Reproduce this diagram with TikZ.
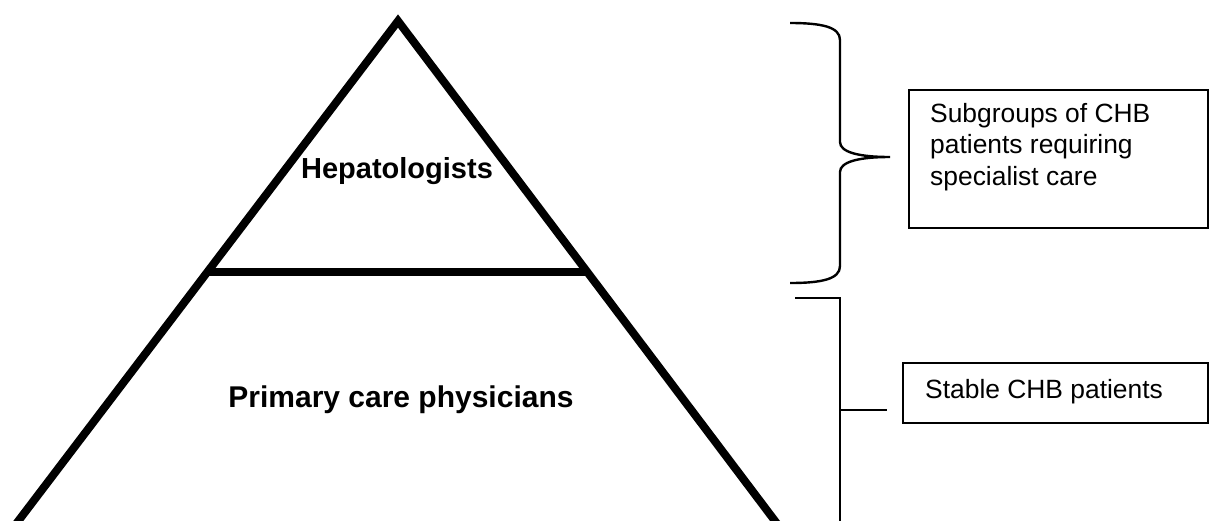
\documentclass[tikz,border=0pt]{standalone}
\usepackage{fontspec}
\setmainfont{Liberation Sans}
\begin{document}
\begin{tikzpicture}[x=1pt,y=-1pt,
  pyr/.style={line width=8pt, line join=miter, miter limit=20},
  brace/.style={line width=2.4pt},
  boxframe/.style={draw, line width=1.6pt, inner sep=0pt},
  boxtext/.style={inner sep=0pt, font=\fontsize{26.4}{31.7}\selectfont, align=left},
  tiertext/.style={inner sep=0pt, font=\fontsize{29}{34}\selectfont\bfseries}]
\useasboundingbox (0,0) rectangle (1210,520);
\begin{scope}
\clip (0,0) rectangle (1210,520);
% pyramid
\draw[pyr] (-25,578) -- (398,21) -- (818,578);
\draw[pyr] (207,272) -- (587,272);
% brace for hepatologists
\draw[brace] (790,23) .. controls (822,23) and (840,27) .. (840,40)
  -- (840,142) .. controls (840,152) and (858,157) .. (890,157)
  .. controls (858,157) and (840,162) .. (840,172)
  -- (840,266) .. controls (840,279) and (822,283) .. (790,283);
% bracket for primary care
\draw[brace] (795,298) -- (840,298) -- (840,540);
\draw[brace] (840,410) -- (887,410);
\end{scope}
\node[tiertext, anchor=base] (hep) at (397,178) {Hepatologists};
\node[tiertext, anchor=base, font=\fontsize{30}{35}\selectfont\bfseries] (pcp) at (401,407) {Primary care physicians};
\draw[boxframe] (909,90) rectangle (1208,228);
\node[boxtext, anchor=base west] (sub) at (930,185.4) {Subgroups of CHB\\patients requiring\\specialist care};
\draw[boxframe] (903,363) rectangle (1208,423);
\node[boxtext, anchor=base west] (stable) at (925,398) {Stable CHB patients};
\end{tikzpicture}
\end{document}
